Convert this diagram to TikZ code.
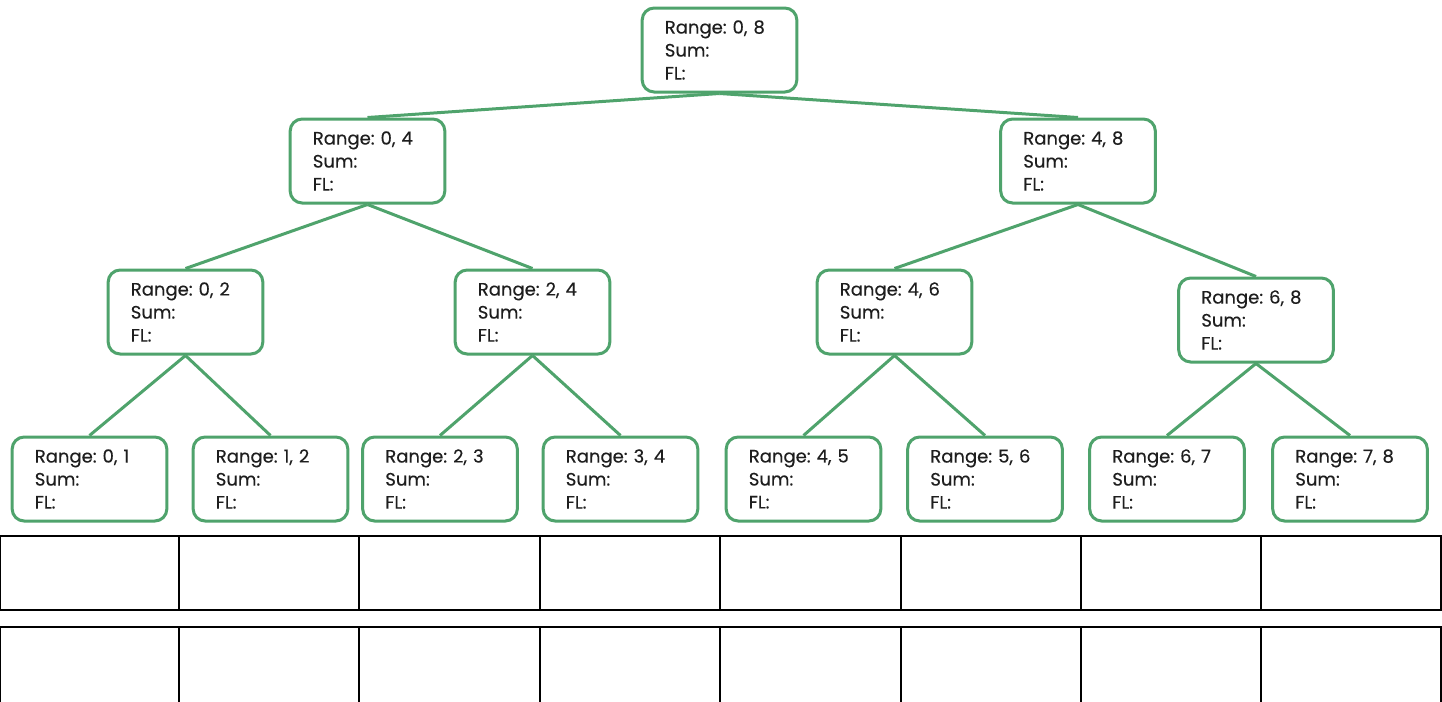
\documentclass[tikz,border=0pt]{standalone}
\usepackage{fontspec}
\setmainfont{Poppins}[FakeBold=0.3]
\usetikzlibrary{positioning}
\frenchspacing

\definecolor{segGreen}{RGB}{79,163,108}
\definecolor{segText}{RGB}{30,30,30}
\newcommand{\seginfo}[2]{Range: #1, #2\\Sum:\\FL:}

\tikzset{
  segnode/.style={draw=segGreen, line width=2.25pt, rounded corners=9pt, fill=white,
    minimum width=116pt, minimum height=63pt, text width=82pt, align=left,
    inner xsep=16pt, text=segText, font=\fontsize{13.5pt}{17.25pt}\selectfont},
  segedge/.style={draw=segGreen, line width=2.25pt},
  cell/.style={draw=black, line width=2pt}
}

\begin{document}
\begin{tikzpicture}[x=0.75pt,y=0.75pt,yscale=-1,xscale=1]
\useasboundingbox (0,0) rectangle (1442,701);
\clip (0,0) rectangle (1442,701);

% Root
\draw (719.5,50) node [segnode] (s08) {\seginfo{0}{8}};
% Level 1
\draw (367.5,161) node [segnode] (s04) {\seginfo{0}{4}};
\draw (1078,161) node [segnode] (s48) {\seginfo{4}{8}};
% Level 2
\draw (185.5,312) node [segnode] (s02) {\seginfo{0}{2}};
\draw (532.5,312) node [segnode] (s24) {\seginfo{2}{4}};
\draw (894.5,312) node [segnode] (s46) {\seginfo{4}{6}};
\draw (1256,320) node [segnode] (s68) {\seginfo{6}{8}};
% Leaves
\draw (89.5,479) node [segnode] (s01) {\seginfo{0}{1}};
\draw (270.5,479) node [segnode] (s12) {\seginfo{1}{2}};
\draw (440,479) node [segnode] (s23) {\seginfo{2}{3}};
\draw (620.5,479) node [segnode] (s34) {\seginfo{3}{4}};
\draw (803.5,479) node [segnode] (s45) {\seginfo{4}{5}};
\draw (985,479) node [segnode] (s56) {\seginfo{5}{6}};
\draw (1167,479) node [segnode] (s67) {\seginfo{6}{7}};
\draw (1350,479) node [segnode] (s78) {\seginfo{7}{8}};

% Connections
\draw [segedge] (s08.south) -- (s04.north);
\draw [segedge] (s08.south) -- (s48.north);
\draw [segedge] (s04.south) -- (s02.north);
\draw [segedge] (s04.south) -- (s24.north);
\draw [segedge] (s48.south) -- (s46.north);
\draw [segedge] (s48.south) -- (s68.north);
\draw [segedge] (s02.south) -- (s01.north);
\draw [segedge] (s02.south) -- (s12.north);
\draw [segedge] (s24.south) -- (s23.north);
\draw [segedge] (s24.south) -- (s34.north);
\draw [segedge] (s46.south) -- (s45.north);
\draw [segedge] (s46.south) -- (s56.north);
\draw [segedge] (s68.south) -- (s67.north);
\draw [segedge] (s68.south) -- (s78.north);

% Array rows
\foreach \xa/\xb in {0/179, 179/359, 359/540, 540/720, 720/901, 901/1081, 1081/1261, 1261/1441} {
  \draw [cell] (\xa,536) rectangle (\xb,610);
  \draw [cell] (\xa,627) rectangle (\xb,710);
}
\end{tikzpicture}
\end{document}
